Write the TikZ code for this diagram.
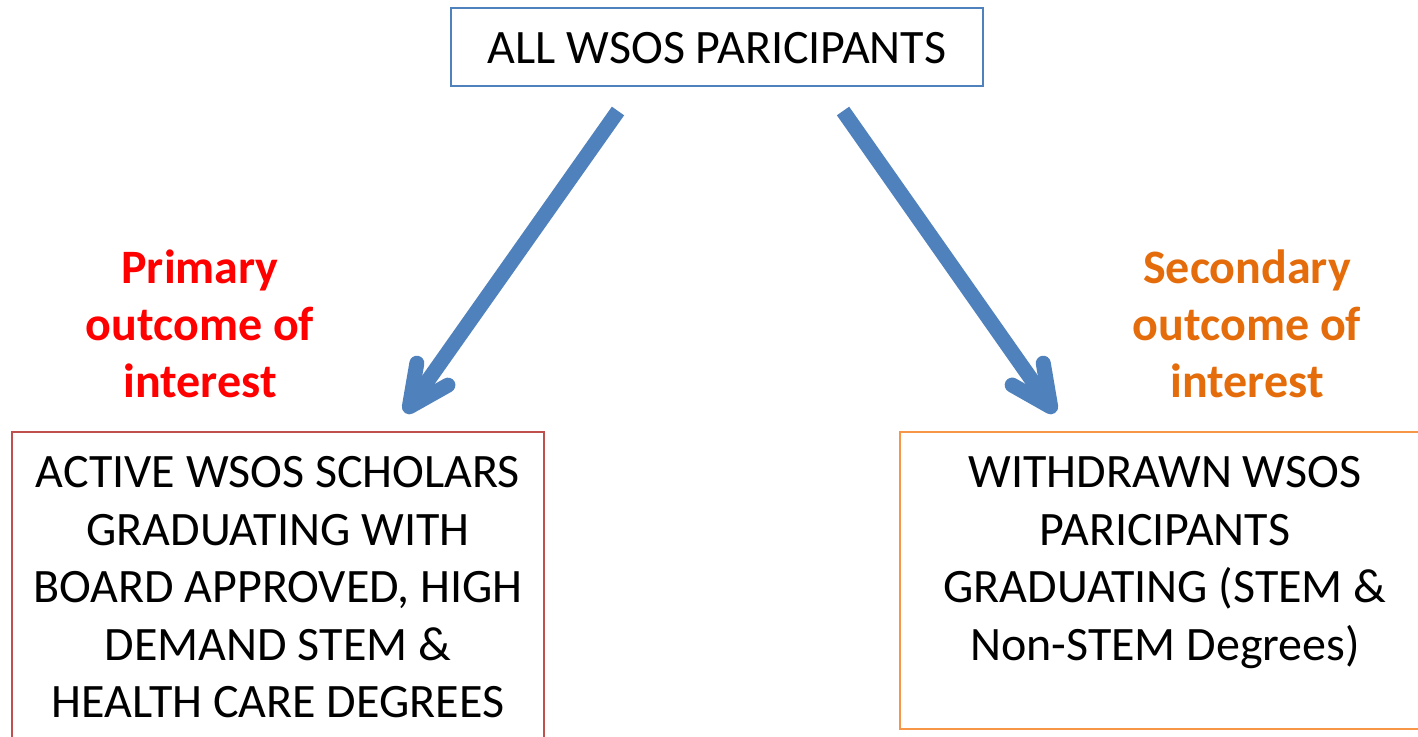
\documentclass[tikz,border=0pt]{standalone}
\usepackage{fontspec}
\setmainfont{Carlito}
\usetikzlibrary{arrows.meta}
\definecolor{arrowblue}{HTML}{4F81BD}
\definecolor{boxblue}{HTML}{4F81BD}
\definecolor{boxred}{HTML}{C0504D}
\definecolor{boxorange}{HTML}{F79646}
\definecolor{lblred}{HTML}{FF0000}
\definecolor{lblorange}{HTML}{E46C0A}
\begin{document}
\begin{tikzpicture}[x=1pt,y=-1pt,
  bigtext/.style={font=\fontsize{48}{57.5}\selectfont, align=center, inner sep=0pt, anchor=north},
  lbltext/.style={font=\fontsize{48}{57}\selectfont\bfseries, align=center, inner sep=0pt, anchor=north},
  framebox/.style={draw, line width=1.5pt, rectangle, inner sep=0pt},
  bigarrow/.style={draw=arrowblue, line width=15pt, line cap=butt,
    -{Straight Barb[length=40pt, width=38pt, round]}}]
\useasboundingbox (0,0) rectangle (1418,736);
\clip (0,0) rectangle (1418,736);
\fill[white] (0,0) rectangle (1418,736);

% boxes
\node[framebox, draw=boxblue, minimum width=532pt, minimum height=78pt] (topbox) at (717,47) {};
\node[framebox, draw=boxred, minimum width=532pt, minimum height=330pt] (leftbox) at (278,597) {};
\node[framebox, draw=boxorange, minimum width=530pt, minimum height=297pt] (rightbox) at (1165,580.5) {};

% texts
\node[bigtext] (toptext) at (717,32.2) {ALL WSOS PARICIPANTS};
\node[bigtext] (lefttext) at (278,456.2) {ACTIVE WSOS SCHOLARS\\GRADUATING WITH\\BOARD APPROVED, HIGH\\DEMAND STEM \&\\HEALTH CARE DEGREES};
\node[bigtext] (righttext) at (1165,456.2) {WITHDRAWN WSOS\\PARICIPANTS\\GRADUATING (STEM \&\\Non-STEM Degrees)};

% outcome labels
\node[lbltext, text=lblred] (primary) at (200,249.5) {Primary\\outcome of\\interest};
\node[lbltext, text=lblorange] (secondary) at (1247,249.5) {Secondary\\outcome of\\interest};

% arrows
\coordinate (lstart) at (618,111);
\coordinate (lend) at (405,413);
\coordinate (rstart) at (843,111);
\coordinate (rend) at (1055,413);
\draw[bigarrow] (lstart) -- (lend);
\draw[bigarrow] (rstart) -- (rend);
\end{tikzpicture}
\end{document}
